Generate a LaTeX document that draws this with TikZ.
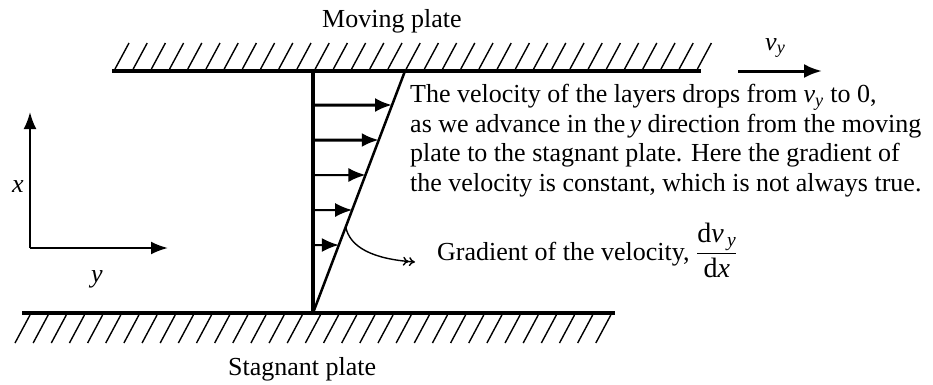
\documentclass[tikz,border=0pt]{standalone}
\usepackage{amsmath}
\usepackage{fontspec}
\setmainfont{Liberation Serif}
\usetikzlibrary{arrows.meta,calc}
\newcommand{\vely}{\textit{v}\textsubscript{\textit{y}}}
\begin{document}
\begin{tikzpicture}[x=1pt,y=-1pt,
  every node/.style={font=\fontsize{26}{29.5}\selectfont,inner sep=0pt},
  plate/.style={line width=4pt},
  hatch/.style={line width=1.4pt},
  flow/.style={-{Latex[length=17pt,width=14pt]}},
  axis/.style={line width=2.2pt,-{Latex[length=17pt,width=13pt]}}]
\useasboundingbox (0,0) rectangle (933,384);
% plates with hatching
\coordinate (topL) at (112,71);
\coordinate (topR) at (701,71);
\coordinate (botL) at (22,313);
\coordinate (botR) at (615,313);
\draw[plate] (topL) -- (topR);
\draw[plate] (botL) -- (botR);
\foreach \i in {0,...,32} \draw[hatch] (115+\i*18.2,69) -- ++(14,-26);
\foreach \i in {0,...,32} \draw[hatch] (30+\i*18.15,315) -- ++(-15,28);
\node[anchor=base west] (moving) at (322,27) {Moving plate};
\node[anchor=base west] (stagnant) at (228,375) {Stagnant plate};
% velocity of the moving plate
\coordinate (vA) at (738,71);
\coordinate (vB) at (822,71);
\draw[line width=3pt,-{Latex[length=18pt,width=14pt]}] (vA) -- (vB);
\node[anchor=base west] (vlab) at (765,50) {\vely};
% profile
\coordinate (wall0) at (313,313);
\coordinate (wall1) at (313,71);
\coordinate (tip0) at (313,313);
\coordinate (tip1) at (405,71);
\draw[line width=3.5pt] (wall0) -- (wall1);
\draw[line width=2.5pt] (tip0) -- (tip1);
\foreach \y/\w in {105/3pt,140/3pt,175/2pt,210/2pt,245/2pt}
  \draw[flow,line width=\w] (313,\y) -- ($(tip0)!{(313-\y)/242}!(tip1)$);
% gradient label
\coordinate (gS) at ($(tip0)!{86/242}!(tip1)$);
\coordinate (gE) at (415,262);
\draw[line width=1.4pt,-{To[length=6pt,width=9pt]To[length=6pt,width=9pt]}] (gS) .. controls (350,247) and (372,259) .. (gE);
\node[anchor=base west] (grad) at (437,260)
  {Gradient of the velocity, {\fontsize{28}{30}\selectfont$\displaystyle\frac{\text{d}\textit{v}_{\,\textit{y}}}{\text{d}\textit{x}}$}};
% description
\node[anchor=north west,align=left] (desc) at (410,84)
  {The velocity of the layers drops from \vely{} to 0,\\
   as we advance in the\,\textit{y} direction from the moving\\
   plate to the stagnant plate. Here the gradient of\\
   the velocity is constant, which is not always true.};
% axes
\coordinate (origin) at (30,248);
\coordinate (xend) at (30,112);
\coordinate (yend) at (168,248);
\draw[axis] (origin) -- (xend);
\draw[axis] (origin) -- (yend);
\node[anchor=base] (xlab) at (18,192) {\textit{x}};
\node[anchor=base] (ylab) at (97,282) {\textit{y}};
\end{tikzpicture}
\end{document}
